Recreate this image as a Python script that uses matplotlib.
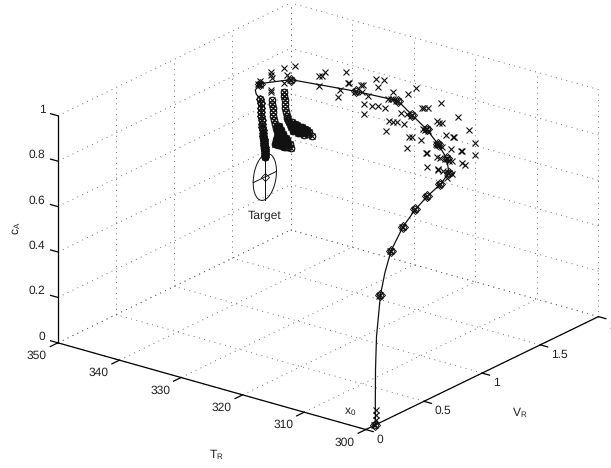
import numpy as np
import matplotlib
matplotlib.use("Agg")
import matplotlib.pyplot as plt
from mpl_toolkits.mplot3d import proj3d

plt.rcParams["font.family"] = ["Liberation Sans", "DejaVu Sans"]
plt.rcParams["mathtext.default"] = "regular"
plt.rcParams["text.hinting"] = "no_hinting"
plt.rcParams["text.hinting_factor"] = 1

T_TICKS = [300, 310, 320, 330, 340, 350]
V_TICKS = [0, 0.5, 1, 1.5, 2]
C_TICKS = [0, 0.2, 0.4, 0.6, 0.8, 1]
C_LABELS = ["0", "0.2", "0.4", "0.6", "0.8", "1"]
V_LABELS = ["0", "0.5", "1", "1.5", "2"]

# closed loop path, the points that carry a diamond
traj_T = [300, 302, 305, 308, 311, 314, 317, 320, 323, 325, 327, 329, 331, 333, 335, 337]
traj_V = [0.083, 0.232, 0.482, 0.744, 1.009, 1.271, 1.539, 1.773, 1.912, 1.946, 1.952, 1.934, 1.915, 1.663, 1.209, 1.045]
traj_c = [0.001, 0.520, 0.630, 0.648, 0.635, 0.605, 0.567, 0.537, 0.543, 0.581, 0.630, 0.682, 0.735, 0.824, 0.973, 0.981]

# the same path with the extra points of the bends
line_T = [300, 300, 300.5, 301, 302, 303.5, 305, 308, 311, 314, 317, 320, 323, 325, 327, 329, 331, 333, 335, 337, 338, 339, 340, 340]
line_V = [0.083, 0.082, 0.110, 0.145, 0.232, 0.349, 0.482, 0.744, 1.009, 1.271, 1.539, 1.773, 1.912, 1.946, 1.952, 1.934, 1.915, 1.663, 1.209, 1.045, 1.061, 1.123, 1.210, 1.252]
line_c = [0.001, 0.098, 0.232, 0.365, 0.520, 0.576, 0.630, 0.648, 0.635, 0.605, 0.567, 0.537, 0.543, 0.581, 0.630, 0.682, 0.735, 0.824, 0.973, 0.981, 0.940, 0.899, 0.851, 0.583]

# predicted columns at T = 340
col1_V = [1.210, 1.213, 1.215, 1.217, 1.219, 1.221, 1.225, 1.227, 1.230, 1.233, 1.236, 1.239, 1.241, 1.244, 1.245, 1.247, 1.249, 1.250, 1.251, 1.251, 1.252,
          1.234, 1.237, 1.238, 1.240, 1.242, 1.243, 1.246, 1.248, 1.250, 1.251, 1.252]
col1_c = [0.851, 0.830, 0.808, 0.789, 0.771, 0.753, 0.737, 0.721, 0.707, 0.693, 0.679, 0.665, 0.656, 0.646, 0.637, 0.628, 0.619, 0.610, 0.601, 0.592, 0.583,
          0.686, 0.672, 0.661, 0.651, 0.642, 0.633, 0.624, 0.615, 0.606, 0.597, 0.588]
col2_V = [1.311, 1.312, 1.315, 1.318, 1.322, 1.330, 1.339, 1.348, 1.356, 1.365, 1.382, 1.399, 1.416, 1.433, 1.451, 1.474,
          1.356, 1.348, 1.339, 1.365, 1.399, 1.433, 1.382, 1.416,
          1.373, 1.391, 1.408, 1.433, 1.356, 1.373, 1.391, 1.356, 1.373, 1.391, 1.416, 1.451, 1.442, 1.468]
col2_c = [0.822, 0.801, 0.782, 0.764, 0.746, 0.726, 0.706, 0.687, 0.671, 0.656, 0.643, 0.630, 0.617, 0.604, 0.591, 0.570,
          0.645, 0.634, 0.618, 0.608, 0.594, 0.582, 0.621, 0.599,
          0.689, 0.667, 0.645, 0.621, 0.693, 0.667, 0.645, 0.623, 0.632, 0.610, 0.588, 0.577, 0.610, 0.587]
col3_V = [1.412, 1.416, 1.419, 1.421, 1.425, 1.431, 1.439, 1.451, 1.468, 1.494, 1.519, 1.545, 1.571, 1.597, 1.622, 1.654,
          1.485, 1.528, 1.571, 1.614, 1.494, 1.536,
          1.442, 1.459, 1.476, 1.511, 1.554, 1.588, 1.554, 1.597, 1.631, 1.511]
col3_c = [0.830, 0.810, 0.792, 0.774, 0.755, 0.736, 0.717, 0.696, 0.674, 0.657, 0.644, 0.631, 0.618, 0.605, 0.592, 0.575,
          0.679, 0.657, 0.635, 0.612, 0.637, 0.618,
          0.707, 0.685, 0.659, 0.637, 0.616, 0.598, 0.642, 0.620, 0.598, 0.663]

# crosses, grouped by the temperature they sit at
cross40_V = [1.410, 1.511, 1.416, 1.439, 1.711, 1.740, 1.762, 1.946, 1.717, 1.897, 1.874, 1.204, 1.204, 1.305, 1.305, 1.311, 1.305, 1.305, 1.412, 1.416]
cross40_c = [0.938, 0.918, 0.869, 0.897, 0.825, 0.818, 0.830, 0.785, 0.781, 0.720, 0.691, 0.930, 0.911, 0.945, 0.930, 0.918, 0.864, 0.857, 0.830, 0.810]
cross30_V = [1.438, 1.444, 1.561, 1.547, 1.673, 1.747, 1.690, 1.558, 1.609, 1.819, 1.948, 1.570, 1.639, 1.695, 1.753, 1.575, 1.790, 1.819, 1.853, 1.918,
             1.764, 1.888, 1.944, 1.781, 1.802, 1.824, 1.961, 1.982, 1.942]
cross30_c = [0.940, 0.938, 0.899, 0.902, 0.899, 0.878, 0.859, 0.868, 0.839, 0.804, 0.764, 0.812, 0.790, 0.773, 0.750, 0.768, 0.685, 0.675, 0.665, 0.639,
             0.648, 0.695, 0.675, 0.782, 0.779, 0.773, 0.570, 0.567, 0.526]
cross20_V = [1.489, 1.706, 1.850, 1.944, 1.996, 1.996, 1.538, 1.558, 1.590, 1.552, 1.573, 1.590, 1.667, 1.689, 1.715, 1.535, 1.749, 1.807, 1.813, 1.661,
             1.684, 1.715, 1.792, 1.876, 1.882, 1.575, 1.581, 1.672, 1.695, 1.753, 1.775, 1.798, 1.882, 1.912, 1.584, 1.676, 1.682, 1.724, 1.767, 1.801, 1.758]
cross20_c = [0.982, 0.862, 0.765, 0.681, 0.611, 0.560, 0.883, 0.878, 0.866, 0.787, 0.778, 0.768, 0.791, 0.778, 0.769, 0.739, 0.708, 0.685, 0.683, 0.692,
             0.682, 0.666, 0.638, 0.607, 0.605, 0.672, 0.670, 0.631, 0.621, 0.601, 0.590, 0.584, 0.552, 0.538, 0.611, 0.576, 0.574, 0.557, 0.536, 0.526, 0.519]
cross_start_V = [0.086, 0.086, 0.086]
cross_start_c = [0.066, 0.044, 0.019]

target_T = 340
target_V = 1.249
target_c = 0.496
target_r = 0.1

GRID = dict(color="#5c5c5c", lw=0.65, ls=(0, (1, 5)))
AXIS = dict(color="black", lw=0.9)
TXT = dict(fontsize=8.7, color="#222222")
INK = "#111111"


def cross_marks(ax, t, v, c):
    ax.plot(np.full(len(v), t), v, c, ls="none", marker="x", ms=3.9, mew=0.8, color=INK)


def label3d(ax, t, v, c, s, **kw):
    # text2D at the projected spot, so the text keeps its real place on the canvas
    x, y, _ = proj3d.proj_transform(t, v, c, ax.get_proj())
    ax.text2D(x, y, s, transform=ax.transData, **kw, **TXT)


def main() -> None:
    fig = plt.figure(figsize=(6.11, 4.68), dpi=100)
    ax = fig.add_axes([-82.6 / 611, -159 / 468, 800 / 611, 800 / 468],
                      projection="3d", proj_type="ortho", computed_zorder=False)
    ax.set_xlim(350, 300)
    ax.set_ylim(0, 2)
    ax.set_zlim(0, 1)
    ax.view_init(elev=21.7, azim=-52.7)
    ax.set_box_aspect((388, 385, 245), zoom=0.725)
    ax.set_xticks([])
    ax.set_yticks([])
    ax.set_zticks([])
    ax.set_axis_off()

    # dotted grid on the floor and the two back walls
    for t in T_TICKS:
        ax.plot([t, t], [0, 2], [0, 0], **GRID)
        ax.plot([t, t], [2, 2], [0, 1], **GRID)
    for v in V_TICKS:
        ax.plot([300, 350], [v, v], [0, 0], **GRID)
        ax.plot([350, 350], [v, v], [0, 1], **GRID)
    for c in C_TICKS:
        ax.plot([350, 350], [0, 2], [c, c], **GRID)
        ax.plot([300, 350], [2, 2], [c, c], **GRID)

    # axis lines and ticks
    ax.plot([300, 350], [0, 0], [0, 0], **AXIS)
    ax.plot([300, 300], [0, 2], [0, 0], **AXIS)
    ax.plot([350, 350], [0, 0], [0, 1], **AXIS)
    for t in T_TICKS:
        ax.plot([t, t], [0, -0.065], [0, 0], **AXIS)
        label3d(ax, t, -0.18, -0.012, str(t), ha="center", va="center")
    for v, lab in zip(V_TICKS, V_LABELS):
        ax.plot([300, 298.8], [v, v], [0, 0], **AXIS)
        label3d(ax, 298.3, v, -0.03, lab, ha="left", va="center")
    for c, lab in zip(C_TICKS, C_LABELS):
        ax.plot([350, 351.2], [0, 0], [c, c], **AXIS)
        label3d(ax, 352, 0, c + 0.012, lab, ha="right", va="center")

    # target ellipse with its cross
    a = np.linspace(0, 2 * np.pi, 80)
    ax.plot(np.full(a.size, target_T), target_V + target_r * np.cos(a), target_c + target_r * np.sin(a), color=INK, lw=0.7)
    ax.plot([target_T] * 2, [target_V - target_r, target_V + target_r], [target_c, target_c], color=INK, lw=0.7)
    ax.plot([target_T] * 2, [target_V, target_V], [target_c - target_r, target_c + target_r], color=INK, lw=0.7)
    ax.plot([target_T], [target_V], [target_c], ls="none", marker="D", ms=3.6, mfc="none", mew=0.6, color=INK)

    # path and markers
    ax.plot(line_T, line_V, line_c, color=INK, lw=0.9)
    ax.plot(traj_T, traj_V, traj_c, ls="none", marker="D", ms=4.6, mfc="none", mew=0.7, color=INK)
    ax.plot(traj_T, traj_V, traj_c, ls="none", marker="o", ms=4.2, mfc="none", mew=0.7, color=INK)
    ax.plot(traj_T, traj_V, traj_c, ls="none", marker="x", ms=3.9, mew=0.8, color=INK)
    ax.plot(traj_T, np.array(traj_V) - 0.012, traj_c, ls="none", marker="x", ms=3.9, mew=0.8, color=INK)

    # columns: open circles, solid where the steps pile up at the lower end
    for vals_v, vals_c, lo, hi in [(col1_V, col1_c, 0.0, 0.70), (col2_V, col2_c, 0.59, 0.69), (col3_V, col3_c, 0.60, 0.675)]:
        vals_v = np.array(vals_v)
        vals_c = np.array(vals_c)
        ts = np.full(vals_v.size, 340)
        ax.plot(ts, vals_v, vals_c, ls="none", marker="o", ms=4.7, mfc="none", mew=0.85, color=INK)
        ax.plot(ts, vals_v, vals_c, ls="none", marker="x", ms=3.9, mew=0.8, color=INK)
        solid = (vals_c > lo) & (vals_c < hi)
        ax.plot(ts[solid], vals_v[solid], vals_c[solid], ls="none", marker="o", ms=4.7, mew=0, color=INK)
    ax.plot(np.full(21, 340), col1_V[:21], col1_c[:21], ls="none", marker="D", ms=4.2, mfc="none", mew=0.7, color=INK)

    cross_marks(ax, 340, cross40_V, cross40_c)
    cross_marks(ax, 330, cross30_V, cross30_c)
    cross_marks(ax, 320, cross20_V, cross20_c)
    cross_marks(ax, 300, cross_start_V, cross_start_c)

    label3d(ax, target_T, target_V, 0.325, "Target", ha="center", va="center")
    label3d(ax, 300, -0.137, 0.114, "$x_0$", ha="center", va="center")
    fig.text(216.7 / 611, 1 - 455 / 468, "$T_R$", ha="center", va="center", **TXT)
    fig.text(520 / 611, 1 - 412.7 / 468, "$V_R$", ha="center", va="center", **TXT)
    fig.text(16.5 / 611, 1 - 228 / 468, "$c_A$", ha="center", va="center", rotation=90, **TXT)

    fig.savefig("out.png", dpi=100)


if __name__ == "__main__":
    main()
